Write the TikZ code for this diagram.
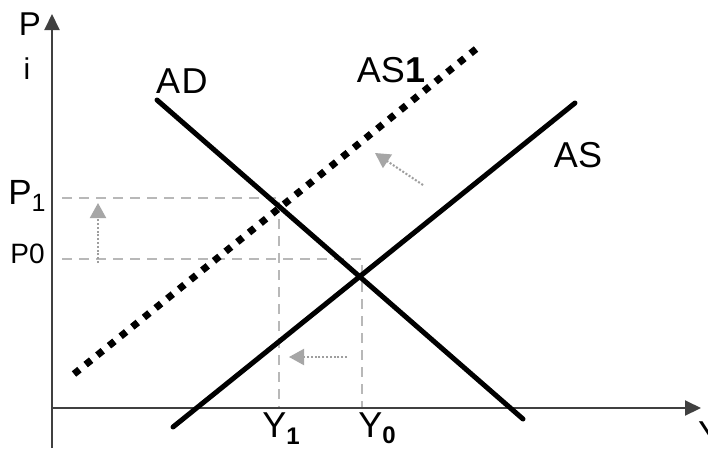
\documentclass[tikz,border=0pt]{standalone}
\usepackage{fontspec}
\setmainfont{Liberation Sans}
\usetikzlibrary{arrows.meta}
\tikzset{
  axisline/.style={line width=2pt, black!75, -{Triangle[length=16pt,width=15pt]}},
  curve/.style={line width=5pt, black, line cap=round},
  dotcurve/.style={line width=7pt, black, dash pattern=on 7pt off 8pt},
  guide/.style={line width=1.8pt, black!28, dash pattern=on 10pt off 7pt},
  shiftarrow/.style={line width=2pt, black!38, dash pattern=on 2pt off 1.8pt,
    -{Triangle[length=15pt,width=16pt,color=black!35]}},
  lbl/.style={inner sep=0pt, anchor=base},
}
\newcommand{\fsz}[1]{\fontsize{#1}{#1}\selectfont}
\begin{document}
\begin{tikzpicture}[x=1pt,y=-1pt]
\useasboundingbox[fill=white] (0,0) rectangle (708,448);
% coordinates
\coordinate (O) at (52,408);
\coordinate (ytop) at (52,14);
\coordinate (ybot) at (52,448);
\coordinate (xend) at (701,408);
\coordinate (ad1) at (157,100);
\coordinate (ad2) at (523,419);
\coordinate (as1) at (173,427);
\coordinate (as2) at (575,103);
\coordinate (bs1) at (74,374);
\coordinate (bs2) at (476,49);
\coordinate (p1l) at (62,198);
\coordinate (p1r) at (279,198);
\coordinate (y1b) at (279,407);
\coordinate (p0l) at (62,259);
\coordinate (p0r) at (362,259);
\coordinate (y0b) at (362,407);
\coordinate (va) at (98,263);
\coordinate (vb) at (98,203);
\coordinate (ha) at (347,357);
\coordinate (hb) at (289,357);
\coordinate (da) at (423,185);
\coordinate (db) at (375,153);
% guides
\draw[guide] (p1l) -- (p1r) -- (y1b);
\draw[guide] (p0l) -- (p0r) -- (y0b);
% axes
\draw[axisline] (ybot) -- (ytop);
\draw[axisline] (O) -- (xend);
% curves
\draw[dotcurve] (bs1) -- (bs2);
\draw[curve] (ad1) -- (ad2);
\draw[curve] (as1) -- (as2);
% shift arrows
\draw[shiftarrow] (va) -- (vb);
\draw[shiftarrow] (ha) -- (hb);
\draw[shiftarrow] (da) -- (db);
% labels
\node[lbl] (lP) at (30,35) {\fsz{33}P};
\node[lbl] (li) at (27,79) {\fsz{30}i};
\node[lbl] (lAD) at (182,93) {\fsz{36}A\kern1.5pt D};
\node[lbl] (lAS1) at (391,82) {\fsz{36}AS\textbf{1}};
\node[lbl] (lAS) at (578,167) {\fsz{36}AS};
\node[lbl] (lP1) at (27,204) {\fsz{35}P\raisebox{-7pt}{\fsz{25}1}};
\node[lbl] (lP0) at (27.5,263) {\fsz{28}P0};
\node[lbl] (lY1) at (281,437) {\fsz{36}Y\raisebox{-7pt}{\fsz{24}\textbf{1}}};
\node[lbl] (lY0) at (377,437) {\fsz{36}Y\raisebox{-6pt}{\fsz{24}\textbf{0}}};
\node[lbl, anchor=base west] (lY) at (698,446) {\fsz{36}Y};
\end{tikzpicture}
\end{document}
